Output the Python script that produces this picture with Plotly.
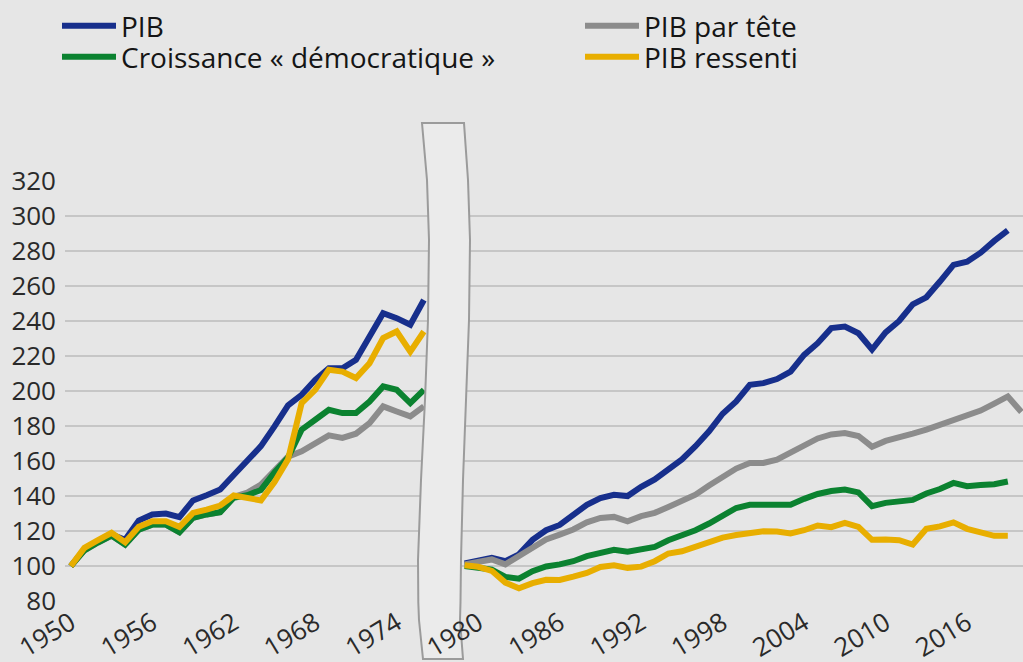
import plotly.graph_objects as go

# ---------------- data ----------------
years_early = list(range(1950, 1977))          # 1950 = 100
years_late = list(range(1979, 2021))           # 1979 ~ 100
years_gap = [1977, 1978]

pib_early = [100, 109.5, 114, 118, 115, 126, 129.5, 130, 128, 137.5, 140.5, 143.7,
             152, 159.8, 168.5, 179.8, 191.8, 197.8, 206.4, 213, 213, 217.8, 231,
             244.4, 241.6, 237.8, 252]
pib_late = [101.5, 102.8, 104.7, 102.8, 106.7, 115, 120.5, 123.5, 128.8, 135, 138.8,
            140.7, 140, 145.3, 149.5, 155.2, 160.9, 168.5, 177, 187, 194, 203.5, 204.5,
            206.8, 211.1, 220.6, 227.3, 235.9, 236.8, 233, 223.7, 233.5, 240, 249.5,
            253.5, 262.5, 272, 273.8, 279, 285.7, 291.7, None]

tete_early = [100, 109, 113.5, 117.5, 112.3, 120.8, 123.7, 123.7, 119.4, 127.6, 129.5,
              130.8, 139.5, 142, 146.5, 155, 162.5, 165.5, 170.3, 174.7, 173.2, 175.6,
              181.7, 191.2, 188.3, 185.5, 191.2]
tete_late = [101, 102.5, 103.8, 101, 105.7, 111.4, 115.2, 118, 120.9, 125, 127.5, 128.1,
             125.6, 128.5, 130.4, 133.8, 137, 140.8, 146, 150.9, 155.7, 158.9, 158.9,
             160.8, 164.6, 168.9, 172.9, 175.2, 176, 174.3, 168.2, 171.5, 173.2, 175.7,
             178, 180.7, 183.9, 186, 188.8, 192.8, 196.9, 188]

demo_early = [100, 109, 113.5, 117.5, 112.3, 120.8, 123.7, 123.7, 119.4, 127.6, 129.5,
              130.8, 139, 140.5, 143.5, 153.5, 162, 177.9, 183.6, 189.3, 187.4, 187.4,
              194, 202.6, 200.7, 193.1, 200.7]
demo_late = [100, 99, 98, 93.8, 92.8, 97.1, 99.8, 101, 102.8, 105.7, 107.9, 109.3, 108.2,
             109.5, 111, 114.8, 117.5, 120.5, 124.3, 128.9, 133.2, 135, 135.1, 134.7,
             135.1, 138.4, 141.2, 142.9, 143.7, 142.1, 134.2, 136.1, 137.1, 137.8, 141.5,
             144, 147.5, 145.6, 146.3, 146.8, 148.3, None]

ressenti_early = [100, 110.4, 114.8, 119, 113.6, 122.5, 125.6, 125.6, 122.4, 130.4, 132.3,
                  134.6, 140.3, 138.5, 137.5, 148, 161, 193.1, 200.7, 212.1, 211.1, 207.4,
                  215.9, 230.2, 234, 222.5, 234]
ressenti_late = [100.5, 99.6, 97.3, 90.6, 87.3, 90.3, 92.2, 92.1, 94, 96.1, 99.5, 100.5,
                 99, 99.7, 102.8, 107.2, 108.5, 111, 113.6, 116.3, 117.8, 119.2, 119.9,
                 119.7, 118.6, 120.5, 123.2, 122.2, 124.7, 122.4, 115, 115.2, 114.8, 112.3,
                 121.3, 122.7, 125, 121.3, 119.2, 117.3, 117.3, None]

tick_years = [1950, 1956, 1962, 1968, 1974, 1980, 1986, 1992, 1998, 2004, 2010, 2016]
tick_labels = [str(y) for y in tick_years]
y_ticks = list(range(80, 340, 20))

# ---------------- figure ----------------
years_all = years_early + years_gap + years_late
gap = [None, None]

FONT = "Open Sans"
L, R, T, B, W, H = 65, 0, 180, 60, 1023, 662
PW, PH = W - L - R, H - T - B
ITEMW = 54

# name, early, late, colour, legend id, legend text start px, legend top px
series = [
    ("PIB", pib_early, pib_late, "#172f8c", "legend", 123, 1),
    ("PIB par tête", tete_early, tete_late, "#8c8c8c", "legend2", 646, 1),
    ("Croissance « démocratique »", demo_early, demo_late, "#0b8230", "legend3", 123, 32),
    ("PIB ressenti", ressenti_early, ressenti_late, "#e8ae00", "legend4", 646, 32),
]

fig = go.Figure()
legends = {}
for name, early, late, color, lg, lx, ly in series:
    fig.add_trace(go.Scatter(
        x=years_all, y=early + gap + late, name=name, mode="lines",
        line=dict(color=color, width=6), connectgaps=False,
        legend=lg, hoverinfo="skip",
    ))
    legends[lg] = dict(
        x=(lx - ITEMW - 12) / W, y=1 - ly / H, xanchor="left", yanchor="top",
        xref="container", yref="container", orientation="v", itemwidth=ITEMW,
        font=dict(family=FONT, size=28, color="#151515"),
        bgcolor="rgba(0,0,0,0)",
    )


def pp(px, py):
    return (px - L) / PW, (H - B - py) / PH


def path_of(points, close):
    s = "M " + " L ".join("{:.5f},{:.5f}".format(*pp(x, y)) for x, y in points)
    return s + (" Z" if close else "")


# decorative "break" band covering 1977-1978
left_top = [(422, 123), (427, 180), (429, 240), (428, 320), (425, 400), (421, 480),
            (418, 560), (418.3, 602)]
right_top = [(460.5, 602), (461, 560), (463, 480), (466, 400), (469, 320), (470, 240),
             (468, 180), (464, 123)]
left_bot = [(418.3, 602), (419, 620), (423, 659)]
right_bot = [(463, 659), (460, 620), (460.5, 602)]
BAND_FILL, BAND_LINE = "#ebebeb", "#9b9b9b"

fig.add_shape(type="path", path=path_of(left_top + right_top, True), xref="paper",
              yref="paper", fillcolor=BAND_FILL, line=dict(width=0), layer="above")
fig.add_shape(type="path", path=path_of(left_top[::-1] + right_top[::-1], False),
              xref="paper", yref="paper", fillcolor="rgba(0,0,0,0)",
              line=dict(color=BAND_LINE, width=2), layer="above")
fig.add_shape(type="path", path=path_of(left_bot + right_bot, True), xref="paper",
              yref="paper", fillcolor=BAND_FILL, line=dict(width=0), layer="below")
fig.add_shape(type="path", path=path_of(left_bot + right_bot, False), xref="paper",
              yref="paper", fillcolor="rgba(0,0,0,0)",
              line=dict(color=BAND_LINE, width=2), layer="below")

fig.update_layout(
    width=W, height=H,
    margin=dict(l=L, r=R, t=T, b=B, autoexpand=False),
    paper_bgcolor="#e6e6e6", plot_bgcolor="#e6e6e6",
    showlegend=True,
    xaxis=dict(
        range=[1949.573, 2020.118], tickmode="array", tickvals=tick_years,
        ticktext=tick_labels, tickangle=-31, showgrid=False, zeroline=False,
        showline=False, ticks="", automargin=False, ticklabelstandoff=0,
        tickfont=dict(family=FONT, size=26, color="#2a2a2a"),
    ),
    yaxis=dict(
        range=[79.5, 320.5], tickmode="array", tickvals=y_ticks,
        showgrid=True, gridcolor="#c6c6c6", gridwidth=2, zeroline=False,
        showline=False, ticks="", automargin=False, ticklabelstandoff=8,
        tickfont=dict(family=FONT, size=26, color="#2a2a2a"),
    ),
    **legends,
)

fig.write_html(
    "out.html",
    config={"displayModeBar": False, "staticPlot": True},
    post_script="document.body.style.margin='0';document.body.style.background='#e6e6e6';",
)
